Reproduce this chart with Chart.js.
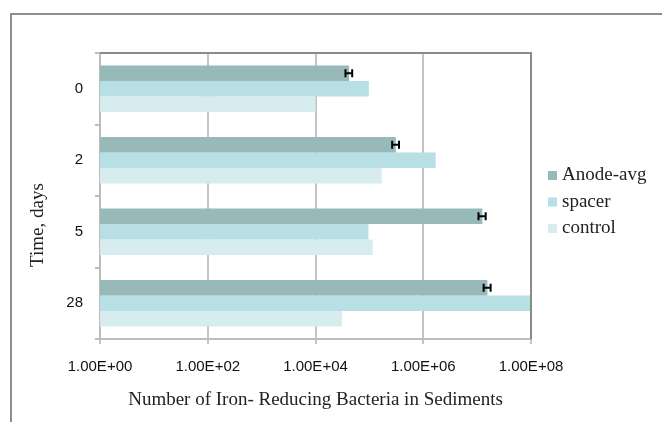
<!DOCTYPE html>
<html>
<head>
<meta charset="utf-8">
<script src="https://cdn.jsdelivr.net/npm/chart.js@4.4.0/dist/chart.umd.min.js"></script>
<style>
    body { margin: 0; background: #ffffff; }
    #wrap { width: 662px; height: 422px; }
</style>
</head>
<body>
<div id="wrap"><canvas id="barChart" width="662" height="422"></canvas></div>
<script>
const days = ["0", "2", "5", "28"];
const anodeAvg = [4.2e4, 3.1e5, 1.25e7, 1.55e7];
const anodeErr = [6.0e3, 4.5e4, 1.9e6, 2.3e6];
const spacer = [9.8e4, 1.7e6, 9.6e4, 1.0e8];
const control = [1.0e4, 1.7e5, 1.15e5, 3.1e4];
const xTicks = [1, 1e2, 1e4, 1e6, 1e8];
const xTickLabels = ["1.00E+00", "1.00E+02", "1.00E+04", "1.00E+06", "1.00E+08"];

const serif = "'Liberation Serif', 'Times New Roman', serif";
const sans = "'Liberation Sans', Arial, sans-serif";

// frame, plot border, y title, error bars and legend
const decor = {
    id: "decor",
    afterDraw(chart) {
        const ctx = chart.ctx;
        const a = chart.chartArea;
        const x = chart.scales.x;
        ctx.save();

        // outer frame (top + left only)
        ctx.strokeStyle = "#8e8e8e";
        ctx.lineWidth = 2;
        ctx.beginPath();
        ctx.moveTo(662, 14);
        ctx.lineTo(11, 14);
        ctx.lineTo(11, 422);
        ctx.stroke();

        // plot area top and right border
        ctx.strokeStyle = "#8a8a8a";
        ctx.beginPath();
        ctx.moveTo(a.left, a.top);
        ctx.lineTo(a.right, a.top);
        ctx.lineTo(a.right, a.bottom);
        ctx.stroke();

        // error bars on Anode-avg
        const meta = chart.getDatasetMeta(0);
        ctx.strokeStyle = "#000000";
        ctx.lineWidth = 2;
        meta.data.forEach((bar, i) => {
            const v = anodeAvg[i];
            const e = anodeErr[i];
            const x1 = x.getPixelForValue(v - e);
            const x2 = x.getPixelForValue(v + e);
            ctx.beginPath();
            ctx.moveTo(x1, bar.y);
            ctx.lineTo(x2, bar.y);
            ctx.moveTo(x1, bar.y - 4);
            ctx.lineTo(x1, bar.y + 4);
            ctx.moveTo(x2, bar.y - 4);
            ctx.lineTo(x2, bar.y + 4);
            ctx.stroke();
        });

        // y axis title
        ctx.fillStyle = "#222222";
        ctx.font = "19px " + serif;
        ctx.textAlign = "center";
        ctx.textBaseline = "middle";
        ctx.save();
        ctx.translate(38, 225);
        ctx.rotate(-Math.PI / 2);
        ctx.fillText("Time, days", 0, 0);
        ctx.restore();

        // legend
        ctx.textAlign = "left";
        chart.data.datasets.forEach((ds, i) => {
            const cy = 175.5 + i * 26.5;
            ctx.fillStyle = ds.backgroundColor;
            ctx.fillRect(548, cy - 4.5, 9, 9);
            ctx.fillStyle = "#222222";
            ctx.fillText(ds.label, 562, cy);
        });
        ctx.restore();
    }
};

const barCtx = document.getElementById("barChart").getContext("2d");
new Chart(barCtx, {
    type: "bar",
    data: {
        labels: days,
        datasets: [
            {label: "Anode-avg", data: anodeAvg, backgroundColor: "#98b9ba"},
            {label: "spacer", data: spacer, backgroundColor: "#b8e0e4"},
            {label: "control", data: control, backgroundColor: "#d6ecef"}
        ]
    },
    options: {
        indexAxis: "y",
        responsive: false,
        animation: false,
        categoryPercentage: 0.65,
        barPercentage: 1,
        layout: {
            padding: {left: 40, top: 53, right: 131, bottom: 11}
        },
        plugins: {
            legend: {display: false},
            tooltip: {enabled: false}
        },
        scales: {
            x: {
                type: "logarithmic",
                min: 1,
                max: 1e8,
                afterBuildTicks: axis => {
                    axis.ticks = xTicks.map(v => ({value: v}));
                },
                afterFit: axis => {
                    axis.height = 72;
                },
                ticks: {
                    padding: 14,
                    color: "#111111",
                    font: {family: sans, size: 15},
                    callback: (value, index) => xTickLabels[index]
                },
                grid: {
                    color: "#c4c4c4",
                    lineWidth: 2,
                    tickLength: 5
                },
                border: {color: "#bdbdbd", width: 2},
                title: {
                    display: true,
                    text: "Number of Iron- Reducing Bacteria in Sediments",
                    color: "#222222",
                    font: {family: serif, size: 19},
                    padding: {top: 13, bottom: 0}
                }
            },
            y: {
                afterFit: axis => {
                    axis.width = 60;
                },
                ticks: {
                    padding: 12,
                    color: "#111111",
                    font: {family: sans, size: 15}
                },
                grid: {
                    drawOnChartArea: false,
                    color: "#bdbdbd",
                    lineWidth: 2,
                    tickLength: 5
                },
                border: {color: "#bdbdbd", width: 2}
            }
        }
    },
    plugins: [decor]
});
</script>
</body>
</html>
